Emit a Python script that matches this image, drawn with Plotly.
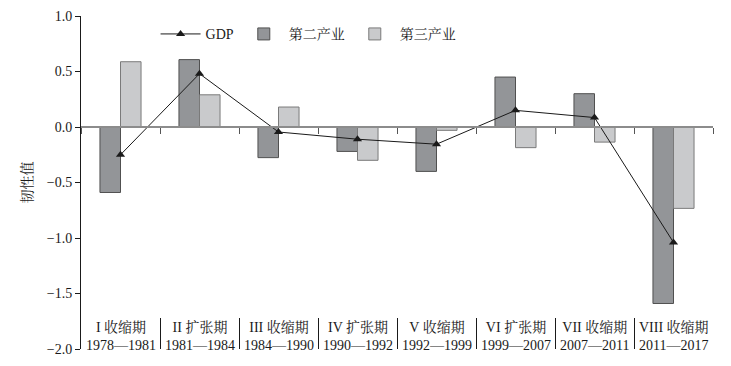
import plotly.graph_objects as go

periods = ["I 收缩期", "II 扩张期", "III 收缩期", "IV 扩张期", "V 收缩期", "VI 扩张期", "VII 收缩期", "VIII 收缩期"]
years = ["1978—1981", "1981—1984", "1984—1990", "1990—1992", "1992—1999", "1999—2007", "2007—2011", "2011—2017"]
gdp = [-0.25, 0.48, -0.045, -0.11, -0.155, 0.15, 0.085, -1.04]
secondary = [-0.59, 0.607, -0.276, -0.22, -0.40, 0.45, 0.30, -1.59]
tertiary = [0.588, 0.29, 0.18, -0.30, -0.03, -0.186, -0.136, -0.733]
y_ticks = [1.0, 0.5, 0.0, -0.5, -1.0, -1.5, -2.0]

cats = [f"{p}<br>{y}" for p, y in zip(periods, years)]
FONT = "Liberation Serif, Noto Serif CJK SC, Noto Sans CJK SC, serif"
INK = "#1a1a1a"
y_range = [-2.0, 1.0]

fig = go.Figure()
fig.add_trace(go.Bar(x=cats, y=secondary, name="第二产业", legendrank=2,
                     marker=dict(color="#939598", line=dict(color="#505050", width=1))))
fig.add_trace(go.Bar(x=cats, y=tertiary, name="第三产业", legendrank=3,
                     marker=dict(color="#c9cacc", line=dict(color="#7a7a7a", width=1))))
fig.add_trace(go.Scatter(x=cats, y=gdp, name="GDP", mode="lines+markers", legendrank=1,
                         xaxis="x2",
                         line=dict(color=INK, width=1),
                         marker=dict(symbol="triangle-up", size=8, color=INK)))

for c in cats:
    fig.add_annotation(x=c, y=y_range[0], xref="x", yref="y", text=c, showarrow=False,
                       yanchor="bottom", yshift=-6, align="center",
                       font=dict(size=14, color=INK))

zero_pos = (0 - y_range[0]) / (y_range[1] - y_range[0])

fig.update_layout(
    width=731, height=366,
    margin=dict(l=73, r=26, t=8, b=25, autoexpand=False),
    paper_bgcolor="white", plot_bgcolor="white",
    font=dict(family=FONT, size=14, color=INK),
    barmode="group", bargap=0.48, bargroupgap=0,
    showlegend=True,
    legend=dict(orientation="h", x=0.118, y=0.993, xanchor="left", yanchor="top",
                bgcolor="rgba(0,0,0,0)", font=dict(size=14, color=INK), itemwidth=40,
                traceorder="normal"),
    xaxis=dict(type="category", range=[-0.5, 7.5], showline=False, showgrid=False,
               ticks="inside", tickson="boundaries", ticklen=31, tickcolor=INK,
               tickwidth=1, showticklabels=False, automargin=False),
    xaxis2=dict(type="category", range=[-0.5, 7.5], overlaying="x", anchor="free",
                position=zero_pos, showline=True, linecolor="#8c8c8c", linewidth=1.5,
                ticks="outside", tickson="boundaries", ticklen=6, tickcolor="#555555",
                showticklabels=False, showgrid=False, automargin=False),
    yaxis=dict(range=y_range, tickvals=y_ticks, tickformat=".1f", showgrid=False,
               zeroline=False, showline=True, linecolor=INK, linewidth=1,
               ticks="outside", ticklen=5, tickcolor=INK, automargin=False,
               tickfont=dict(size=14, color=INK),
               title=dict(text="韧性值", font=dict(size=14, color=INK), standoff=10)),
)

fig.write_html("out.html")
